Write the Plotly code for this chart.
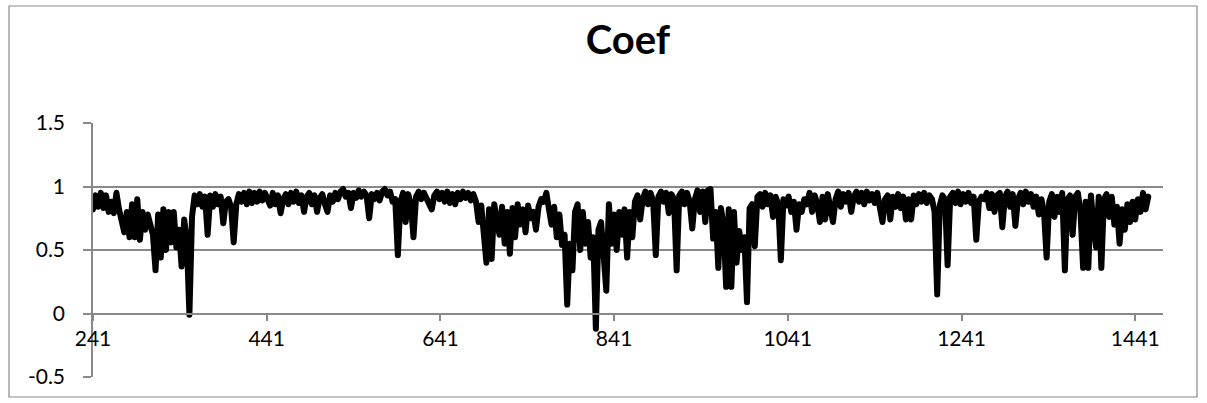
import plotly.graph_objects as go

# ---- data ----
coef_seg1 = [0.82, 0.93, 0.84, 0.95, 0.83, 0.93, 0.80, 0.88, 0.79, 0.95,
             0.82, 0.70, 0.64, 0.80, 0.60, 0.86, 0.60, 0.90, 0.58, 0.80,
             0.66, 0.78, 0.68, 0.62, 0.34, 0.78, 0.44, 0.82, 0.50, 0.80,
             0.56, 0.80, 0.52, 0.66, 0.37, 0.74, 0.58, -0.01, 0.76, 0.93,
             0.86, 0.94, 0.84, 0.92, 0.62, 0.93, 0.84, 0.94, 0.86, 0.92,
             0.71, 0.88, 0.90, 0.84, 0.56, 0.86, 0.94, 0.88, 0.95, 0.86,
             0.96, 0.87, 0.95, 0.88, 0.96, 0.89, 0.95, 0.90]
coef_seg2 = [0.85, 0.95, 0.86, 0.93, 0.79, 0.90, 0.94, 0.86, 0.95, 0.88,
             0.96, 0.87, 0.93, 0.80, 0.92, 0.95, 0.86, 0.93, 0.80, 0.91,
             0.94, 0.86, 0.80, 0.93, 0.88, 0.95, 0.90, 0.96, 0.98, 0.92,
             0.95, 0.83, 0.95, 0.91, 0.97, 0.92, 0.96, 0.93, 0.75, 0.94,
             0.90, 0.95, 0.89, 0.96, 0.98, 0.93, 0.96, 0.88, 0.90, 0.46,
             0.88, 0.95, 0.72, 0.94, 0.86, 0.60, 0.92, 0.96, 0.90, 0.95,
             0.91, 0.85, 0.82, 0.93, 0.96, 0.90, 0.95, 0.88, 0.96]
coef_seg3 = [0.87, 0.94, 0.86, 0.95, 0.90, 0.96, 0.91, 0.95, 0.89, 0.94,
             0.88, 0.72, 0.85, 0.66, 0.40, 0.82, 0.43, 0.86, 0.70, 0.62,
             0.84, 0.55, 0.80, 0.47, 0.83, 0.60, 0.86, 0.70, 0.82, 0.64,
             0.85, 0.75, 0.80, 0.66, 0.84, 0.90, 0.88, 0.95, 0.82, 0.70,
             0.84, 0.60, 0.78, 0.54, 0.62, 0.07, 0.55, 0.34, 0.80, 0.86,
             0.50, 0.80, 0.55, 0.72, 0.44, 0.60, -0.12, 0.66, 0.72, 0.45,
             0.18, 0.86, 0.55, 0.78, 0.50, 0.80, 0.62, 0.82]
coef_seg4 = [0.44, 0.80, 0.60, 0.88, 0.93, 0.74, 0.90, 0.96, 0.86, 0.95,
             0.88, 0.46, 0.92, 0.96, 0.88, 0.95, 0.79, 0.94, 0.90, 0.34,
             0.93, 0.96, 0.86, 0.95, 0.88, 0.67, 0.90, 0.97, 0.80, 0.96,
             0.72, 0.97, 0.98, 0.59, 0.80, 0.36, 0.83, 0.70, 0.21, 0.82,
             0.21, 0.80, 0.40, 0.65, 0.50, 0.60, 0.09, 0.83, 0.86, 0.53,
             0.92, 0.94, 0.84, 0.95, 0.86, 0.93, 0.76, 0.92, 0.86, 0.42,
             0.90, 0.85, 0.92, 0.80, 0.88, 0.66, 0.86, 0.80, 0.90]
coef_seg5 = [0.86, 0.95, 0.80, 0.93, 0.86, 0.72, 0.92, 0.74, 0.94, 0.85,
             0.72, 0.90, 0.96, 0.84, 0.94, 0.88, 0.95, 0.80, 0.92, 0.96,
             0.88, 0.95, 0.86, 0.96, 0.89, 0.94, 0.87, 0.95, 0.82, 0.72,
             0.90, 0.93, 0.74, 0.92, 0.84, 0.94, 0.83, 0.92, 0.74, 0.90,
             0.74, 0.93, 0.86, 0.94, 0.88, 0.95, 0.87, 0.93, 0.90, 0.80,
             0.15, 0.85, 0.93, 0.90, 0.38, 0.92, 0.95, 0.87, 0.96, 0.86,
             0.94, 0.88, 0.95, 0.87, 0.92, 0.58, 0.88, 0.92]
coef_seg6 = [0.90, 0.95, 0.83, 0.94, 0.80, 0.93, 0.95, 0.68, 0.92, 0.96,
             0.84, 0.94, 0.69, 0.90, 0.95, 0.86, 0.96, 0.88, 0.94, 0.84,
             0.92, 0.78, 0.90, 0.80, 0.44, 0.88, 0.94, 0.76, 0.92, 0.80,
             0.95, 0.34, 0.90, 0.93, 0.62, 0.92, 0.95, 0.80, 0.36, 0.88,
             0.36, 0.93, 0.70, 0.52, 0.92, 0.36, 0.90, 0.94, 0.76, 0.92,
             0.70, 0.84, 0.55, 0.82, 0.66, 0.86, 0.72, 0.88, 0.74, 0.90,
             0.80, 0.95, 0.82, 0.92]

coef = coef_seg1 + coef_seg2 + coef_seg3 + coef_seg4 + coef_seg5 + coef_seg6
first_category = 241
category_step = 3
categories = [first_category + category_step * i for i in range(len(coef))]

x_tick_vals = [241, 441, 641, 841, 1041, 1241, 1441]
x_tick_text = ["241", "441", "641", "841", "1041", "1241", "1441"]
y_tick_vals = [-0.5, 0, 0.5, 1, 1.5]
y_tick_text = ["-0.5", "0", "0.5", "1", "1.5"]
x_range = [241, 1473]
y_range = [-0.5, 1.5]

GRID = "#898989"
FONT = "Lato, 'Open Sans', sans-serif"

fig = go.Figure()
fig.add_trace(go.Scatter(
    x=categories, y=coef, mode="lines",
    line=dict(color="black", width=6),
    hoverinfo="skip", showlegend=False,
))

fig.update_layout(
    width=1207, height=403,
    margin=dict(l=93, r=44, t=123, b=26),
    paper_bgcolor="white", plot_bgcolor="white",
    font=dict(family=FONT, size=21, color="black"),
    title=dict(text="<b>Coef</b>", x=0.5, xref="paper", xanchor="center",
               y=1 - 40 / 403, yref="container", yanchor="middle",
               font=dict(family=FONT, size=40, color="black")),
    xaxis=dict(
        range=x_range, tickmode="array", tickvals=x_tick_vals, ticktext=x_tick_text,
        showgrid=False, zeroline=False, showline=True, linecolor=GRID, linewidth=1.5,
        ticks="outside", ticklen=7, tickcolor=GRID, tickwidth=1.5,
        anchor="free", position=0.25, automargin=False,
        tickfont=dict(family=FONT, size=21, color="black"),
    ),
    yaxis=dict(
        range=y_range, tickmode="array", tickvals=y_tick_vals, ticktext=y_tick_text,
        showgrid=True, gridcolor=GRID, gridwidth=1.5, zeroline=False,
        showline=True, linecolor=GRID, linewidth=1.5,
        ticks="outside", ticklen=8, tickcolor=GRID, tickwidth=1.5,
        ticklabelstandoff=14, automargin=False,
        tickfont=dict(family=FONT, size=21, color="black"),
    ),
    shapes=[dict(type="rect", xref="paper", yref="paper",
                 x0=(9 - 93) / 1070, x1=(1197 - 93) / 1070,
                 y0=(377 - 397) / 254, y1=(377 - 6) / 254,
                 line=dict(color=GRID, width=1.2), fillcolor="rgba(0,0,0,0)",
                 layer="below")],
)

post = (
    "document.body.style.margin='0px';document.body.style.padding='0px';"
    "var s=document.createElement('style');"
    "s.textContent='.scatterlayer .js-line{stroke-linejoin:round !important;"
    "stroke-linecap:round !important;}';"
    "document.head.appendChild(s);"
)
fig.write_html("out.html", config={"displayModeBar": False}, post_script=post)
